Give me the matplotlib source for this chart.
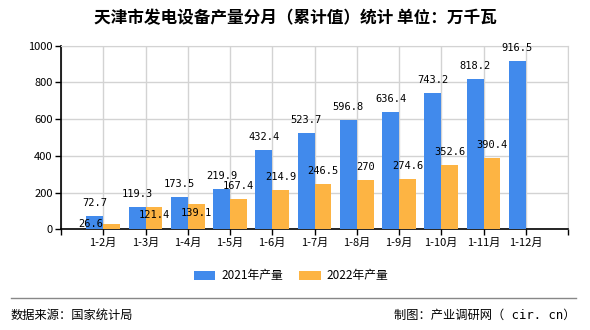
import matplotlib
matplotlib.use("Agg")
import matplotlib.pyplot as plt
import numpy as np

plt.rcParams['font.family'] = ['Noto Sans CJK SC', 'DejaVu Sans']

# data
months = ["1-2月", "1-3月", "1-4月", "1-5月", "1-6月", "1-7月",
          "1-8月", "1-9月", "1-10月", "1-11月", "1-12月"]
output_2021 = [72.7, 119.3, 173.5, 219.9, 432.4, 523.7, 596.8, 636.4, 743.2, 818.2, 916.5]
output_2022 = [26.6, 121.4, 139.1, 167.4, 214.9, 246.5, 270, 274.6, 352.6, 390.4]
labels_2021 = ["72.7", "119.3", "173.5", "219.9", "432.4", "523.7",
               "596.8", "636.4", "743.2", "818.2", "916.5"]
labels_2022 = ["26.6", "121.4", "139.1", "167.4", "214.9", "246.5",
               "270", "274.6", "352.6", "390.4"]

# label nudges (pixels) where labels would collide
shift_2022 = {0: (-21, -13), 1: (0, -21), 2: (0, -22)}

blue = "#418AEC"
orange = "#FDB443"

fig = plt.figure(figsize=(5.9, 3.3), dpi=100)
ax = fig.add_axes([61 / 590, 1 - 229.3 / 330, 507 / 590, (229.3 - 45.7) / 330])

x = np.arange(len(months))
w = 0.4
ax.bar(x[:len(output_2021)] - w / 2, output_2021, w, color=blue, label="2021年产量", zorder=3)
ax.bar(x[:len(output_2022)] + w / 2, output_2022, w, color=orange, label="2022年产量", zorder=3)

for i, v in enumerate(output_2021):
    ax.annotate(labels_2021[i], (x[i] - w / 2, v), xytext=(0, 13 * 0.72),
                textcoords="offset points", ha="center", va="center",
                fontsize=7.5, family="DejaVu Sans Mono", zorder=4)
for i, v in enumerate(output_2022):
    dx, dy = shift_2022.get(i, (0, 0))
    ax.annotate(labels_2022[i], (x[i] + w / 2, v), xytext=(dx * 0.72, (13 + dy) * 0.72),
                textcoords="offset points", ha="center", va="center",
                fontsize=7.5, family="DejaVu Sans Mono", zorder=4)

ax.set_xlim(-1, len(months))
ax.set_ylim(0, 1000)
ax.set_yticks(range(0, 1001, 200))
ax.set_xticks(np.arange(-1, len(months) + 1))
ax.set_xticklabels([""] + months + [""])
ax.tick_params(axis="both", labelsize=8, length=4, width=1, color="black", pad=2)
ax.grid(True, color="#d3d3d3", linewidth=1, zorder=0)

for s in ["top", "right"]:
    ax.spines[s].set_color("#d3d3d3")
for s in ["left", "bottom"]:
    ax.spines[s].set_color("black")
    ax.spines[s].set_linewidth(1.2)

fig.text(0.5, 1 - 18 / 330, "天津市发电设备产量分月（累计值）统计 单位：万千瓦",
         ha="center", va="center", fontsize=12, weight="bold")

fig.legend(loc="center", bbox_to_anchor=(291 / 590, 1 - 276 / 330), ncol=2,
           frameon=False, fontsize=8.5, handlelength=1.85, handleheight=0.75,
           columnspacing=1.35, handletextpad=0.5)

fig.add_artist(plt.Line2D([11 / 590, 576 / 590], [1 - 298 / 330] * 2,
                          color="#888888", linewidth=1))
fig.text(11 / 590, 1 - 315 / 330, "数据来源：国家统计局", ha="left", va="center", fontsize=8.8)
fig.text(576 / 590, 1 - 315 / 330, "制图：产业调研网（ cir. cn）", ha="right", va="center",
         fontsize=8.8, family=["DejaVu Sans Mono", "Noto Sans CJK SC"])

fig.savefig("out.png", dpi=100)
